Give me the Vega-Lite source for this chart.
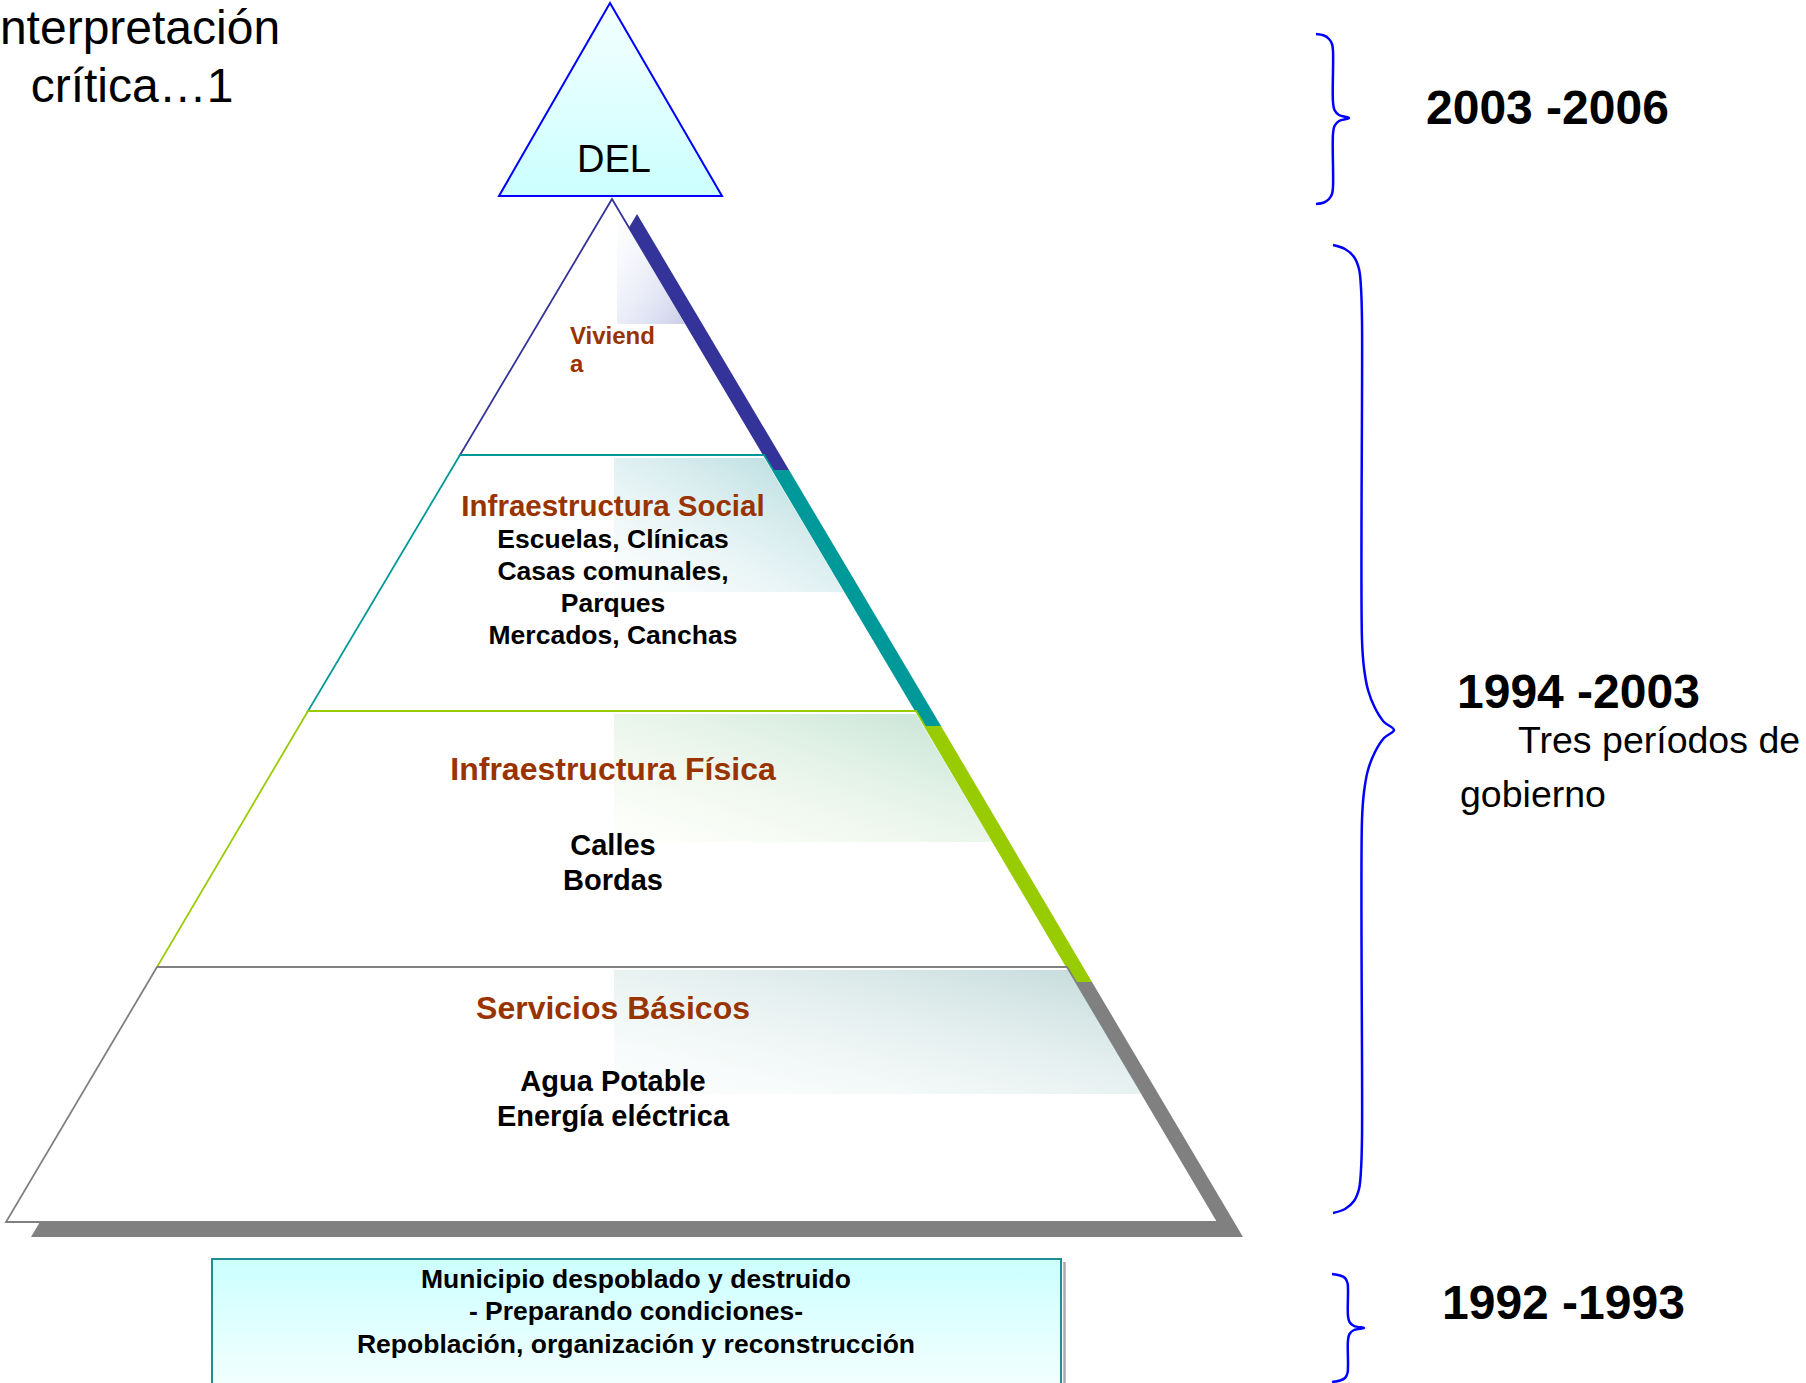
{
  "$schema": "https://vega.github.io/schema/vega-lite/v6.json",
  "width": 1806,
  "height": 1383,
  "padding": 0,
  "autosize": "none",
  "background": "white",
  "config": {"view": {"stroke": null}},
  "datasets": {
    "polys": [
      {"kind": "shadow", "part": "V", "y": 214, "x": 637, "xr": 637},
      {"kind": "shadow", "part": "V", "y": 470, "x": 485, "xr": 789},
      {"kind": "shadow", "part": "S", "y": 470, "x": 485, "xr": 789},
      {"kind": "shadow", "part": "S", "y": 726, "x": 333, "xr": 941},
      {"kind": "shadow", "part": "F", "y": 726, "x": 333, "xr": 941},
      {"kind": "shadow", "part": "F", "y": 982, "x": 182, "xr": 1092},
      {"kind": "shadow", "part": "B", "y": 982, "x": 182, "xr": 1092},
      {"kind": "shadow", "part": "B", "y": 1237, "x": 31, "xr": 1243},
      {"kind": "band", "part": "V", "y": 199, "x": 612, "xr": 612},
      {"kind": "band", "part": "V", "y": 455, "x": 460, "xr": 764},
      {"kind": "band", "part": "S", "y": 455, "x": 460, "xr": 764},
      {"kind": "band", "part": "S", "y": 711, "x": 308, "xr": 916},
      {"kind": "band", "part": "F", "y": 711, "x": 308, "xr": 916},
      {"kind": "band", "part": "F", "y": 967, "x": 157, "xr": 1067},
      {"kind": "band", "part": "B", "y": 967, "x": 157, "xr": 1067},
      {"kind": "band", "part": "B", "y": 1222, "x": 6, "xr": 1218},
      {"kind": "hatch", "part": "V", "y": 222, "x": 617, "xr": 625},
      {"kind": "hatch", "part": "V", "y": 324, "x": 617, "xr": 685},
      {"kind": "hatch", "part": "S", "y": 458, "x": 614, "xr": 764},
      {"kind": "hatch", "part": "S", "y": 592, "x": 614, "xr": 844},
      {"kind": "hatch", "part": "F", "y": 714, "x": 614, "xr": 916},
      {"kind": "hatch", "part": "F", "y": 842, "x": 614, "xr": 992},
      {"kind": "hatch", "part": "B", "y": 970, "x": 614, "xr": 1068},
      {"kind": "hatch", "part": "B", "y": 1094, "x": 614, "xr": 1142},
      {"kind": "del", "part": "D", "y": 3, "x": 610, "xr": 610},
      {"kind": "del", "part": "D", "y": 196, "x": 499, "xr": 722}
    ],
    "box": [{"x": 212, "xr": 1061, "y": 1259, "yb": 1383}],
    "boxline": [
      {"ord": 1, "x": 212, "y": 1383},
      {"ord": 2, "x": 212, "y": 1259},
      {"ord": 3, "x": 1061, "y": 1259},
      {"ord": 4, "x": 1061, "y": 1383}
    ],
    "boxshadow": [
      {"ord": 1, "x": 1064.5, "y": 1262},
      {"ord": 2, "x": 1064.5, "y": 1383}
    ],
    "braces": [
      {"brace": "T", "ord": 1, "x": 1316, "y": 34},
      {"brace": "T", "ord": 2, "x": 1324, "y": 35.5},
      {"brace": "T", "ord": 3, "x": 1329, "y": 39},
      {"brace": "T", "ord": 4, "x": 1332, "y": 44},
      {"brace": "T", "ord": 5, "x": 1333, "y": 51},
      {"brace": "T", "ord": 6, "x": 1333, "y": 102},
      {"brace": "T", "ord": 7, "x": 1334.5, "y": 110},
      {"brace": "T", "ord": 8, "x": 1339, "y": 115},
      {"brace": "T", "ord": 9, "x": 1349, "y": 118},
      {"brace": "T", "ord": 10, "x": 1339, "y": 121},
      {"brace": "T", "ord": 11, "x": 1334.5, "y": 126},
      {"brace": "T", "ord": 12, "x": 1333, "y": 134},
      {"brace": "T", "ord": 13, "x": 1333, "y": 187},
      {"brace": "T", "ord": 14, "x": 1332, "y": 194},
      {"brace": "T", "ord": 15, "x": 1329, "y": 199},
      {"brace": "T", "ord": 16, "x": 1324, "y": 202.5},
      {"brace": "T", "ord": 17, "x": 1316, "y": 204},
      {"brace": "M", "ord": 1, "x": 1333, "y": 245},
      {"brace": "M", "ord": 2, "x": 1345, "y": 249},
      {"brace": "M", "ord": 3, "x": 1354, "y": 257},
      {"brace": "M", "ord": 4, "x": 1359, "y": 269},
      {"brace": "M", "ord": 5, "x": 1361, "y": 288},
      {"brace": "M", "ord": 6, "x": 1362, "y": 320},
      {"brace": "M", "ord": 7, "x": 1362, "y": 640},
      {"brace": "M", "ord": 8, "x": 1364, "y": 668},
      {"brace": "M", "ord": 9, "x": 1368, "y": 690},
      {"brace": "M", "ord": 10, "x": 1375, "y": 708},
      {"brace": "M", "ord": 11, "x": 1384, "y": 722},
      {"brace": "M", "ord": 12, "x": 1394, "y": 730},
      {"brace": "M", "ord": 13, "x": 1384, "y": 738},
      {"brace": "M", "ord": 14, "x": 1375, "y": 752},
      {"brace": "M", "ord": 15, "x": 1368, "y": 770},
      {"brace": "M", "ord": 16, "x": 1364, "y": 792},
      {"brace": "M", "ord": 17, "x": 1362, "y": 820},
      {"brace": "M", "ord": 18, "x": 1362, "y": 1138},
      {"brace": "M", "ord": 19, "x": 1361, "y": 1170},
      {"brace": "M", "ord": 20, "x": 1359, "y": 1189},
      {"brace": "M", "ord": 21, "x": 1354, "y": 1201},
      {"brace": "M", "ord": 22, "x": 1345, "y": 1209},
      {"brace": "M", "ord": 23, "x": 1333, "y": 1213},
      {"brace": "B", "ord": 1, "x": 1332, "y": 1274},
      {"brace": "B", "ord": 2, "x": 1340, "y": 1275.5},
      {"brace": "B", "ord": 3, "x": 1345, "y": 1278},
      {"brace": "B", "ord": 4, "x": 1347.5, "y": 1283},
      {"brace": "B", "ord": 5, "x": 1348, "y": 1290},
      {"brace": "B", "ord": 6, "x": 1348, "y": 1316},
      {"brace": "B", "ord": 7, "x": 1349.5, "y": 1322},
      {"brace": "B", "ord": 8, "x": 1354, "y": 1326},
      {"brace": "B", "ord": 9, "x": 1364, "y": 1328},
      {"brace": "B", "ord": 10, "x": 1354, "y": 1330},
      {"brace": "B", "ord": 11, "x": 1349.5, "y": 1334},
      {"brace": "B", "ord": 12, "x": 1348, "y": 1340},
      {"brace": "B", "ord": 13, "x": 1348, "y": 1366},
      {"brace": "B", "ord": 14, "x": 1347.5, "y": 1373},
      {"brace": "B", "ord": 15, "x": 1345, "y": 1378},
      {"brace": "B", "ord": 16, "x": 1340, "y": 1380.5},
      {"brace": "B", "ord": 17, "x": 1332, "y": 1382}
    ],
    "texts": [
      {"role": "title", "label": "nterpretación", "x": 140, "y": 44},
      {"role": "title", "label": "crítica…1", "x": 132, "y": 102},
      {"role": "del", "label": "DEL", "x": 614, "y": 172},
      {"role": "viv", "label": "Viviend", "x": 570, "y": 344},
      {"role": "viv", "label": "a", "x": 570, "y": 372},
      {"role": "headS", "label": "Infraestructura Social", "x": 613, "y": 516},
      {"role": "itemS", "label": "Escuelas, Clínicas", "x": 613, "y": 548},
      {"role": "itemS", "label": "Casas comunales,", "x": 613, "y": 580},
      {"role": "itemS", "label": "Parques", "x": 613, "y": 612},
      {"role": "itemS", "label": "Mercados, Canchas", "x": 613, "y": 644},
      {"role": "headF", "label": "Infraestructura Física", "x": 613, "y": 780},
      {"role": "itemF", "label": "Calles", "x": 613, "y": 855},
      {"role": "itemF", "label": "Bordas", "x": 613, "y": 890},
      {"role": "headF", "label": "Servicios Básicos", "x": 613, "y": 1019},
      {"role": "itemF", "label": "Agua Potable", "x": 613, "y": 1091},
      {"role": "itemF", "label": "Energía eléctrica", "x": 613, "y": 1126},
      {"role": "box", "label": "Municipio despoblado y destruido", "x": 636, "y": 1288},
      {"role": "box", "label": "- Preparando condiciones-", "x": 636, "y": 1320},
      {"role": "box", "label": "Repoblación, organización y reconstrucción", "x": 636, "y": 1353},
      {"role": "period", "label": "2003 -2006", "x": 1426, "y": 124},
      {"role": "period", "label": "1994 -2003", "x": 1457, "y": 708},
      {"role": "period", "label": "1992 -1993", "x": 1442, "y": 1319},
      {"role": "desc", "label": "Tres períodos de", "x": 1518, "y": 753},
      {"role": "desc", "label": "gobierno", "x": 1460, "y": 807}
    ]
  },
  "encoding": {
    "x": {"field": "x", "type": "quantitative", "stack": null, "scale": {"domain": [0, 1806], "nice": false, "zero": false}, "axis": null},
    "y": {"field": "y", "type": "quantitative", "scale": {"domain": [0, 1383], "reverse": true, "nice": false, "zero": false}, "axis": null}
  },
  "layer": [
    {
      "data": {"name": "polys"},
      "transform": [{"filter": "datum.kind === 'shadow'"}],
      "mark": {"type": "area", "orient": "horizontal"},
      "encoding": {
        "x2": {"field": "xr"},
        "color": {"field": "part", "type": "nominal", "scale": {"domain": ["V", "S", "F", "B"], "range": ["#333399", "#009999", "#99cc00", "#808080"]}, "legend": null}
      }
    },
    {
      "data": {"name": "polys"},
      "transform": [{"filter": "datum.kind === 'band' && datum.part === 'V'"}],
      "mark": {"type": "area", "orient": "horizontal", "fill": "white", "stroke": "#333399", "strokeWidth": 1.8},
      "encoding": {"x2": {"field": "xr"}}
    },
    {
      "data": {"name": "polys"},
      "transform": [{"filter": "datum.kind === 'band' && datum.part === 'S'"}],
      "mark": {"type": "area", "orient": "horizontal", "fill": "white", "stroke": "#009999", "strokeWidth": 1.8},
      "encoding": {"x2": {"field": "xr"}}
    },
    {
      "data": {"name": "polys"},
      "transform": [{"filter": "datum.kind === 'band' && datum.part === 'F'"}],
      "mark": {"type": "area", "orient": "horizontal", "fill": "white", "stroke": "#99cc00", "strokeWidth": 1.8},
      "encoding": {"x2": {"field": "xr"}}
    },
    {
      "data": {"name": "polys"},
      "transform": [{"filter": "datum.kind === 'band' && datum.part === 'B'"}],
      "mark": {"type": "area", "orient": "horizontal", "fill": "white", "stroke": "#808080", "strokeWidth": 1.8},
      "encoding": {"x2": {"field": "xr"}}
    },
    {
      "data": {"name": "polys"},
      "transform": [{"filter": "datum.kind === 'hatch' && datum.part === 'V'"}],
      "mark": {"type": "area", "orient": "horizontal", "fill": {"gradient": "linear", "x1": 1, "y1": 1, "x2": 0, "y2": 0, "stops": [{"offset": 0, "color": "rgba(150,160,210,0.5)"}, {"offset": 1, "color": "rgba(220,225,245,0.05)"}]}},
      "encoding": {"x2": {"field": "xr"}}
    },
    {
      "data": {"name": "polys"},
      "transform": [{"filter": "datum.kind === 'hatch' && datum.part === 'S'"}],
      "mark": {"type": "area", "orient": "horizontal", "fill": {"gradient": "linear", "x1": 1, "y1": 0, "x2": 0, "y2": 1, "stops": [{"offset": 0, "color": "rgba(90,175,180,0.5)"}, {"offset": 1, "color": "rgba(200,230,235,0.05)"}]}},
      "encoding": {"x2": {"field": "xr"}}
    },
    {
      "data": {"name": "polys"},
      "transform": [{"filter": "datum.kind === 'hatch' && datum.part === 'F'"}],
      "mark": {"type": "area", "orient": "horizontal", "fill": {"gradient": "linear", "x1": 1, "y1": 0, "x2": 0, "y2": 1, "stops": [{"offset": 0, "color": "rgba(120,190,160,0.45)"}, {"offset": 1, "color": "rgba(220,240,190,0.05)"}]}},
      "encoding": {"x2": {"field": "xr"}}
    },
    {
      "data": {"name": "polys"},
      "transform": [{"filter": "datum.kind === 'hatch' && datum.part === 'B'"}],
      "mark": {"type": "area", "orient": "horizontal", "fill": {"gradient": "linear", "x1": 1, "y1": 0, "x2": 0, "y2": 1, "stops": [{"offset": 0, "color": "rgba(120,170,170,0.45)"}, {"offset": 1, "color": "rgba(210,235,230,0.05)"}]}},
      "encoding": {"x2": {"field": "xr"}}
    },
    {
      "data": {"name": "polys"},
      "transform": [{"filter": "datum.kind === 'del'"}],
      "mark": {"type": "area", "orient": "horizontal", "stroke": "#0000ff", "strokeWidth": 2, "fill": {"gradient": "linear", "x1": 0, "y1": 0, "x2": 0, "y2": 1, "stops": [{"offset": 0, "color": "#f4ffff"}, {"offset": 1, "color": "#ccffff"}]}},
      "encoding": {"x2": {"field": "xr"}}
    },
    {
      "data": {"name": "box"},
      "mark": {"type": "rect", "fill": {"gradient": "linear", "x1": 0, "y1": 0, "x2": 0, "y2": 1, "stops": [{"offset": 0, "color": "#ccffff"}, {"offset": 1, "color": "#f2ffff"}]}},
      "encoding": {"x2": {"field": "xr"}, "y2": {"field": "yb"}}
    },
    {
      "data": {"name": "boxshadow"},
      "mark": {"type": "line", "stroke": "#aaaaaa", "strokeWidth": 2.5},
      "encoding": {"order": {"field": "ord", "type": "quantitative"}}
    },
    {
      "data": {"name": "boxline"},
      "mark": {"type": "line", "stroke": "#1f8f8f", "strokeWidth": 2},
      "encoding": {"order": {"field": "ord", "type": "quantitative"}}
    },
    {
      "data": {"name": "braces"},
      "mark": {"type": "line", "stroke": "#0000ff", "strokeWidth": 2.5, "interpolate": "catmull-rom"},
      "encoding": {"order": {"field": "ord", "type": "quantitative"}, "detail": {"field": "brace"}}
    },
    {
      "data": {"name": "texts"},
      "transform": [{"filter": "datum.role === 'title'"}],
      "mark": {"type": "text", "font": "Liberation Sans", "fontSize": 48, "align": "center", "baseline": "alphabetic", "color": "#000000"},
      "encoding": {"text": {"field": "label"}}
    },
    {
      "data": {"name": "texts"},
      "transform": [{"filter": "datum.role === 'del'"}],
      "mark": {"type": "text", "font": "Liberation Sans", "fontSize": 38, "align": "center", "baseline": "alphabetic", "color": "#000000"},
      "encoding": {"text": {"field": "label"}}
    },
    {
      "data": {"name": "texts"},
      "transform": [{"filter": "datum.role === 'viv'"}],
      "mark": {"type": "text", "font": "Liberation Sans", "fontWeight": "bold", "fontSize": 24, "align": "left", "baseline": "alphabetic", "color": "#993300"},
      "encoding": {"text": {"field": "label"}}
    },
    {
      "data": {"name": "texts"},
      "transform": [{"filter": "datum.role === 'headS'"}],
      "mark": {"type": "text", "font": "Liberation Sans", "fontWeight": "bold", "fontSize": 29.5, "align": "center", "baseline": "alphabetic", "color": "#993300"},
      "encoding": {"text": {"field": "label"}}
    },
    {
      "data": {"name": "texts"},
      "transform": [{"filter": "datum.role === 'headF'"}],
      "mark": {"type": "text", "font": "Liberation Sans", "fontWeight": "bold", "fontSize": 32, "align": "center", "baseline": "alphabetic", "color": "#993300"},
      "encoding": {"text": {"field": "label"}}
    },
    {
      "data": {"name": "texts"},
      "transform": [{"filter": "datum.role === 'itemS'"}],
      "mark": {"type": "text", "font": "Liberation Sans", "fontWeight": "bold", "fontSize": 26.5, "align": "center", "baseline": "alphabetic", "color": "#000000"},
      "encoding": {"text": {"field": "label"}}
    },
    {
      "data": {"name": "texts"},
      "transform": [{"filter": "datum.role === 'itemF'"}],
      "mark": {"type": "text", "font": "Liberation Sans", "fontWeight": "bold", "fontSize": 29, "align": "center", "baseline": "alphabetic", "color": "#000000"},
      "encoding": {"text": {"field": "label"}}
    },
    {
      "data": {"name": "texts"},
      "transform": [{"filter": "datum.role === 'box'"}],
      "mark": {"type": "text", "font": "Liberation Sans", "fontWeight": "bold", "fontSize": 26.5, "align": "center", "baseline": "alphabetic", "color": "#000000"},
      "encoding": {"text": {"field": "label"}}
    },
    {
      "data": {"name": "texts"},
      "transform": [{"filter": "datum.role === 'period'"}],
      "mark": {"type": "text", "font": "Liberation Sans", "fontWeight": "bold", "fontSize": 48, "align": "left", "baseline": "alphabetic", "color": "#000000"},
      "encoding": {"text": {"field": "label"}}
    },
    {
      "data": {"name": "texts"},
      "transform": [{"filter": "datum.role === 'desc'"}],
      "mark": {"type": "text", "font": "Liberation Sans", "fontSize": 37.5, "align": "left", "baseline": "alphabetic", "color": "#000000"},
      "encoding": {"text": {"field": "label"}}
    }
  ]
}
